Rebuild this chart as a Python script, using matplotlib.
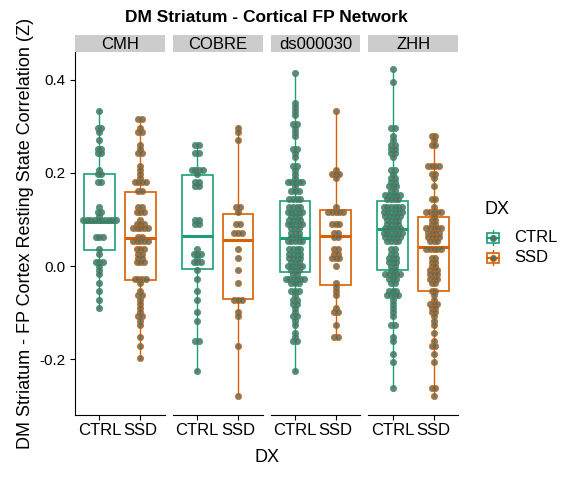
import matplotlib
matplotlib.use("Agg")
import matplotlib.pyplot as plt
import numpy as np
from collections import Counter

plt.rcParams["font.family"] = ["Liberation Sans", "DejaVu Sans"]

sites = ["CMH", "COBRE", "ds000030", "ZHH"]
groups = ["CTRL", "SSD"]
colors = {"CTRL": "#1b9e77", "SSD": "#d95f02"}

cmh_ctrl = [0.335, 0.30, 0.30, 0.285, 0.27, 0.255, 0.255, 0.24, 0.24, 0.21, 0.20, 0.195, 0.18, 0.18,
            0.13, 0.12, 0.12, 0.11, 0.10, 0.095, 0.095, 0.095, 0.095, 0.095, 0.095, 0.095, 0.095, 0.095,
            0.06, 0.06, 0.06, 0.04, 0.03, 0.01, 0.01, 0.01, 0.0, -0.01, -0.02, -0.04, -0.05, -0.07, -0.09]
cmh_ssd = [0.315, 0.315, 0.30, 0.285, 0.285, 0.26, 0.25, 0.24, 0.24, 0.22, 0.21, 0.20, 0.19, 0.18, 0.18,
           0.18, 0.18, 0.16, 0.16, 0.13, 0.13, 0.115, 0.115, 0.115, 0.10, 0.09, 0.09, 0.09, 0.08, 0.08,
           0.08, 0.08, 0.08, 0.06, 0.06, 0.05, 0.05, 0.05, 0.05, 0.05, 0.04, 0.04, 0.04, 0.03, 0.03, 0.02,
           0.02, 0.01, 0.01, 0.01, -0.03, -0.03, -0.03, -0.03, -0.04, -0.05, -0.06, -0.06, -0.07, -0.08,
           -0.09, -0.10, -0.11, -0.11, -0.12, -0.13, -0.15, -0.17, -0.20]
cobre_ctrl = [0.265, 0.265, 0.24, 0.24, 0.21, 0.21, 0.21, 0.21, 0.20, 0.18, 0.18, 0.175, 0.175,
              0.10, 0.10, 0.09, 0.09, 0.04, 0.03, 0.03, 0.03, 0.02, 0.01, 0.01, 0.005, -0.01, -0.03,
              -0.05, -0.07, -0.10, -0.12, -0.16, -0.16, -0.225]
cobre_ssd = [0.30, 0.29, 0.27, 0.13, 0.13, 0.12, 0.09, 0.09, 0.07, 0.07, 0.07, 0.04, 0.02, -0.01, -0.04,
             -0.07, -0.07, -0.07, -0.10, -0.11, -0.17, -0.275]
ds_ctrl = [0.41, 0.35, 0.34, 0.33, 0.32, 0.31, 0.31, 0.30, 0.29, 0.28, 0.25, 0.25, 0.24, 0.23, 0.22,
           0.22, 0.21, 0.20, 0.19, 0.18, 0.18, 0.18, 0.18, 0.18, 0.17, 0.16, 0.16, 0.16, 0.14, 0.14,
           0.14, 0.14, 0.13, 0.13, 0.13, 0.13, 0.12, 0.12, 0.12, 0.12, 0.12, 0.11, 0.11, 0.11, 0.10,
           0.10, 0.10, 0.10, 0.09, 0.09, 0.09, 0.09, 0.09, 0.08, 0.08, 0.08, 0.07, 0.07, 0.07, 0.06,
           0.06, 0.06, 0.05, 0.05, 0.05, 0.05, 0.05, 0.04, 0.04, 0.04, 0.04, 0.03, 0.03, 0.03, 0.03,
           0.02, 0.02, 0.02, 0.02, 0.01, 0.01, 0.01, 0.0, 0.0, 0.0, 0.0, 0.0, -0.01, -0.01, -0.01,
           -0.02, -0.02, -0.03, -0.03, -0.03, -0.03, -0.03, -0.03, -0.04, -0.04, -0.04, -0.05,
           -0.05, -0.05, -0.06, -0.07, -0.07, -0.08, -0.08, -0.09, -0.10, -0.11, -0.11, -0.12, -0.13,
           -0.14, -0.15, -0.16, -0.16, -0.225]
ds_ssd = [0.33, 0.21, 0.20, 0.20, 0.20, 0.19, 0.13, 0.12, 0.12, 0.12, 0.12, 0.12, 0.09, 0.09, 0.09,
          0.07, 0.07, 0.065, 0.065, 0.04, 0.04, 0.03, 0.03, 0.02, 0.02, 0.02, 0.0, -0.04, -0.045, -0.05,
          -0.06, -0.09, -0.10, -0.10, -0.13, -0.15, -0.15]
zhh_ctrl = [0.42, 0.40, 0.30, 0.30, 0.28, 0.27, 0.26, 0.26, 0.25, 0.25, 0.24, 0.24, 0.23, 0.21, 0.21,
            0.20, 0.19, 0.19, 0.18, 0.18, 0.17, 0.17, 0.17, 0.16, 0.16, 0.155, 0.155, 0.155, 0.15, 0.15,
            0.14, 0.14, 0.14, 0.14, 0.13, 0.13, 0.13, 0.13, 0.13, 0.13, 0.12, 0.12, 0.12, 0.12, 0.12,
            0.12, 0.11, 0.11, 0.11, 0.11, 0.11, 0.10, 0.10, 0.10, 0.10, 0.09, 0.09, 0.09, 0.09, 0.08,
            0.08, 0.08, 0.08, 0.08, 0.07, 0.07, 0.07, 0.07, 0.07, 0.07, 0.06, 0.06, 0.06, 0.06, 0.06,
            0.05, 0.05, 0.05, 0.05, 0.04, 0.04, 0.03, 0.03, 0.02, 0.02, 0.02, 0.01, 0.01, 0.01,
            0.0, 0.0, -0.01, -0.01, -0.015, -0.015, -0.02, -0.02, -0.02, -0.03, -0.03, -0.03,
            -0.04, -0.04, -0.05, -0.05, -0.05, -0.06, -0.06, -0.06, -0.06, -0.07, -0.08, -0.09, -0.10,
            -0.11, -0.13, -0.13, -0.15, -0.16, -0.19, -0.21, -0.26]
zhh_ssd = [0.28, 0.28, 0.27, 0.26, 0.26, 0.22, 0.22, 0.22, 0.22, 0.20, 0.20, 0.19, 0.17, 0.14, 0.14,
           0.13, 0.12, 0.12, 0.12, 0.12, 0.12, 0.11, 0.10, 0.10, 0.09, 0.09, 0.08, 0.08, 0.08, 0.08, 0.08,
           0.07, 0.07, 0.07, 0.07, 0.06, 0.06, 0.06, 0.06, 0.05, 0.05, 0.05, 0.04, 0.04, 0.035, 0.035,
           0.035, 0.02, 0.02, 0.01, 0.01, 0.0, 0.0, -0.01, -0.01, -0.01, -0.02, -0.02, -0.02, -0.03,
           -0.03, -0.03, -0.04, -0.04, -0.05, -0.055, -0.06, -0.07, -0.08, -0.08, -0.08, -0.09, -0.09,
           -0.10, -0.10, -0.11, -0.12, -0.13, -0.14, -0.16, -0.17, -0.17, -0.19, -0.21, -0.26, -0.26, -0.28]

data = {
    "CMH": [cmh_ctrl, cmh_ssd],
    "COBRE": [cobre_ctrl, cobre_ssd],
    "ds000030": [ds_ctrl, ds_ssd],
    "ZHH": [zhh_ctrl, zhh_ssd],
}

fig = plt.figure(figsize=(5.76, 4.8), dpi=100)
W, H = 576, 480
left, right, top, bottom = 75, 458, 52, 415
gap = 8
pw = (right - left - 3 * gap) / 4
binw = 0.009
dx = 0.09

for i, site in enumerate(sites):
    x0 = left + i * (pw + gap)
    ax = fig.add_axes([x0 / W, 1 - bottom / H, pw / W, (bottom - top) / H])
    for j, g in enumerate(groups):
        vals = np.array(data[site][j])
        pos = j + 1
        c = colors[g]
        ax.boxplot(vals, positions=[pos], widths=0.75, whis=(0, 100), showfliers=False,
                   patch_artist=True,
                   boxprops=dict(facecolor="none", edgecolor=c, linewidth=1.2),
                   medianprops=dict(color=c, linewidth=2.2),
                   whiskerprops=dict(color=c, linewidth=1),
                   capprops=dict(linewidth=0))
        bins = Counter(np.round(vals / binw).astype(int))
        xs, ys = [], []
        for b, n in bins.items():
            for k in range(n):
                xs.append(pos + (k - (n - 1) / 2) * dx)
                ys.append(b * binw)
        ax.scatter(xs, ys, s=20, facecolor="#5c6b5c", edgecolor=c, linewidth=0.6, alpha=0.85, zorder=3)
    ax.set_xlim(0.4, 2.6)
    ax.set_ylim(-0.32, 0.46)
    ax.set_xticks([1, 2])
    ax.set_xticklabels(groups, fontsize=12)
    for s in ["top", "right"]:
        ax.spines[s].set_visible(False)
    if i > 0:
        ax.spines["left"].set_visible(False)
        ax.tick_params(axis="y", left=False, labelleft=False)
    else:
        ax.set_yticks([-0.2, 0.0, 0.2, 0.4])
        ax.set_yticklabels(["-0.2", "0.0", "0.2", "0.4"], fontsize=11)
        ax.set_ylabel("DM Striatum - FP Cortex Resting State Correlation (Z)", fontsize=13)
    ax.tick_params(axis="x", pad=2)
    sax = fig.add_axes([x0 / W, 1 - 52 / H, pw / W, 17 / H])
    sax.set_facecolor("#cccccc")
    sax.set_xticks([])
    sax.set_yticks([])
    for s in sax.spines.values():
        s.set_visible(False)
    sax.text(0.5, 0.45, site, ha="center", va="center", fontsize=12)

fig.text((left + right) / 2 / W, 1 - 18 / H, "DM Striatum - Cortical FP Network",
         ha="center", va="center", fontsize=12.5, fontweight="bold")
fig.text((left + right) / 2 / W, 1 - 458 / H, "DX", ha="center", va="center", fontsize=13)

fig.text(485 / W, 1 - 210 / H, "DX", fontsize=13, va="center")
for k, g in enumerate(groups):
    yy = 1 - (238 + k * 20) / H
    lax = fig.add_axes([486 / W, yy - 8 / H, 14 / W, 16 / H])
    lax.axis("off")
    lax.set_xlim(0, 1)
    lax.set_ylim(0, 1)
    lax.add_patch(plt.Rectangle((0.1, 0.2), 0.8, 0.6, fill=False, edgecolor=colors[g], linewidth=1.2))
    lax.plot([0.5, 0.5], [0, 0.2], color=colors[g], lw=1)
    lax.plot([0.5, 0.5], [0.8, 1], color=colors[g], lw=1)
    lax.plot([0.1, 0.9], [0.5, 0.5], color=colors[g], lw=1.5)
    lax.scatter([0.5], [0.5], s=20, facecolor="#5c6b5c", edgecolor=colors[g], linewidth=0.6, zorder=3)
    fig.text(514 / W, yy, g, fontsize=12, va="center")

fig.savefig("out.png", dpi=100)
